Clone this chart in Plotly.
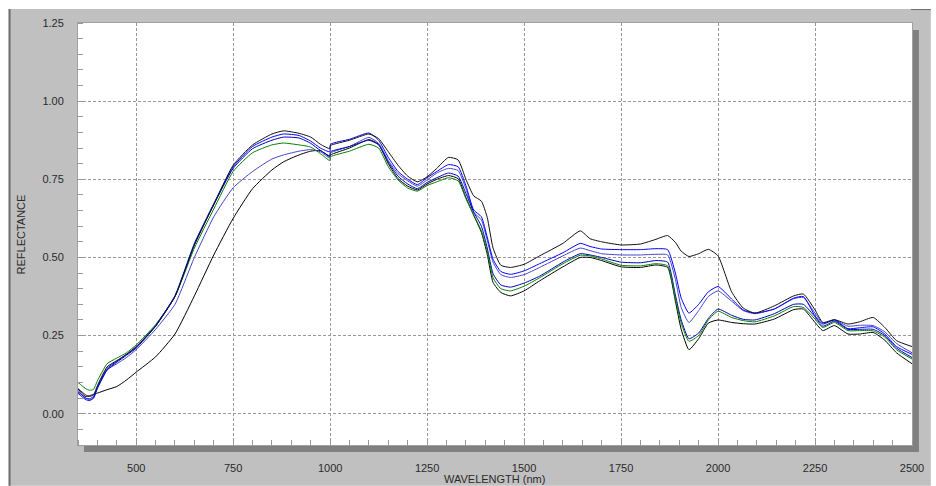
import plotly.graph_objects as go

# ---------------- data ----------------
wavelength = [350, 360, 370, 380, 390, 400, 425, 450, 475, 500, 550, 600, 650, 700, 750,
              800, 850, 880, 920, 950, 975, 999, 1001, 1050, 1100, 1125, 1150, 1175, 1200,
              1225, 1250, 1275, 1305, 1330, 1350, 1370, 1390, 1405, 1420, 1440, 1465, 1500,
              1540, 1600, 1645, 1670, 1700, 1750, 1800, 1840, 1870, 1890, 1905, 1925, 1950,
              1975, 2000, 2035, 2065, 2095, 2145, 2195, 2220, 2250, 2270, 2300, 2335, 2365,
              2400, 2430, 2460, 2500]

black_top = [0.08, 0.07, 0.06, 0.055, 0.06, 0.09, 0.15, 0.17, 0.19, 0.215, 0.28, 0.375, 0.54, 0.67, 0.795,
             0.86, 0.895, 0.905, 0.897, 0.885, 0.862, 0.848, 0.858, 0.875, 0.895, 0.88, 0.838, 0.795, 0.76,
             0.742, 0.758, 0.785, 0.82, 0.812, 0.75, 0.697, 0.68, 0.628, 0.53, 0.475, 0.468, 0.478,
             0.505, 0.545, 0.585, 0.56, 0.55, 0.54, 0.543, 0.558, 0.57, 0.548, 0.52, 0.503, 0.512,
             0.526, 0.505, 0.39, 0.338, 0.322, 0.345, 0.377, 0.383, 0.332, 0.292, 0.301, 0.287, 0.294,
             0.308, 0.276, 0.234, 0.215]

blue = [0.07, 0.06, 0.05, 0.048, 0.055, 0.085, 0.145, 0.168, 0.19, 0.213, 0.282, 0.378, 0.545, 0.672, 0.79,
        0.855, 0.885, 0.895, 0.89, 0.872, 0.85, 0.838, 0.862, 0.878, 0.898, 0.875, 0.82, 0.775, 0.75,
        0.733, 0.755, 0.775, 0.797, 0.79, 0.73, 0.652, 0.63, 0.565, 0.494, 0.455, 0.446, 0.457,
        0.48, 0.515, 0.545, 0.535, 0.527, 0.525, 0.525, 0.528, 0.525, 0.45, 0.37, 0.322, 0.35,
        0.39, 0.407, 0.367, 0.332, 0.322, 0.335, 0.37, 0.375, 0.313, 0.287, 0.3, 0.272, 0.275,
        0.278, 0.255, 0.215, 0.19]

slate_blue = [0.075, 0.06, 0.05, 0.045, 0.05, 0.08, 0.14, 0.16, 0.18, 0.205, 0.27, 0.35, 0.5, 0.63, 0.723,
              0.775, 0.815, 0.828, 0.84, 0.845, 0.838, 0.818, 0.834, 0.855, 0.884, 0.865, 0.81, 0.768, 0.745,
              0.728, 0.748, 0.77, 0.785, 0.778, 0.72, 0.645, 0.62, 0.555, 0.485, 0.445, 0.436, 0.445,
              0.468, 0.505, 0.53, 0.522, 0.512, 0.508, 0.508, 0.51, 0.508, 0.43, 0.34, 0.292, 0.33,
              0.375, 0.393, 0.36, 0.33, 0.32, 0.335, 0.368, 0.372, 0.322, 0.29, 0.3, 0.28, 0.283,
              0.282, 0.262, 0.225, 0.195]

green = [0.1, 0.09, 0.08, 0.075, 0.078, 0.105, 0.16, 0.178, 0.195, 0.22, 0.285, 0.375, 0.53, 0.655, 0.775,
         0.835, 0.86, 0.866, 0.86, 0.853, 0.832, 0.81, 0.822, 0.84, 0.862, 0.85, 0.79, 0.748, 0.722,
         0.712, 0.73, 0.742, 0.755, 0.745, 0.688, 0.636, 0.585, 0.52, 0.435, 0.4, 0.393, 0.408,
         0.435, 0.48, 0.507, 0.505, 0.495, 0.475, 0.473, 0.48, 0.473, 0.37, 0.29, 0.232, 0.25,
         0.3, 0.328, 0.308, 0.298, 0.294, 0.313, 0.343, 0.34, 0.303, 0.276, 0.292, 0.266, 0.266,
         0.265, 0.245, 0.205, 0.175]

dark_blue = [0.065, 0.055, 0.045, 0.042, 0.05, 0.083, 0.14, 0.165, 0.187, 0.21, 0.28, 0.375, 0.54, 0.668, 0.785,
             0.848, 0.875, 0.885, 0.882, 0.865, 0.842, 0.825, 0.838, 0.855, 0.875, 0.86, 0.805, 0.76, 0.735,
             0.72, 0.74, 0.755, 0.77, 0.76, 0.705, 0.645, 0.6, 0.53, 0.448, 0.412, 0.405, 0.418,
             0.44, 0.485, 0.512, 0.508, 0.5, 0.485, 0.483, 0.49, 0.485, 0.38, 0.3, 0.24, 0.258,
             0.305, 0.335, 0.315, 0.302, 0.3, 0.32, 0.35, 0.35, 0.31, 0.28, 0.296, 0.27, 0.27,
             0.27, 0.25, 0.21, 0.18]

black_low = [0.08, 0.065, 0.055, 0.058, 0.062, 0.066, 0.077, 0.087, 0.108, 0.133, 0.182, 0.255, 0.377, 0.508, 0.625,
             0.72, 0.78, 0.806, 0.828, 0.84, 0.842, 0.822, 0.828, 0.85, 0.877, 0.862, 0.8, 0.752, 0.728,
             0.716, 0.735, 0.75, 0.762, 0.752, 0.692, 0.635, 0.58, 0.51, 0.42, 0.388, 0.377, 0.393,
             0.425, 0.47, 0.5, 0.5, 0.49, 0.47, 0.468, 0.476, 0.468, 0.36, 0.27, 0.205, 0.24,
             0.29, 0.3, 0.292, 0.288, 0.287, 0.303, 0.333, 0.335, 0.292, 0.266, 0.282, 0.255, 0.255,
             0.26, 0.235, 0.195, 0.16]

series = [
    ("black_low", black_low, "#000000"),
    ("slate_blue", slate_blue, "#4444cc"),
    ("dark_blue", dark_blue, "#0000b4"),
    ("green", green, "#008000"),
    ("blue", blue, "#0000ff"),
    ("black_top", black_top, "#101010"),
]

x_ticks = [500, 750, 1000, 1250, 1500, 1750, 2000, 2250, 2500]
y_ticks = [0.0, 0.25, 0.5, 0.75, 1.0, 1.25]

# ---------------- layout geometry (pixels) ----------------
W, H = 936, 486
PL, PR, PT, PB = 78, 919, 23, 447


def px(xp):
    return (xp - PL) / (PR - PL)


def py(yp):
    return (PB - yp) / (PB - PT)


fig = go.Figure()
for name, vals, col in series:
    fig.add_trace(go.Scatter(x=wavelength, y=vals, mode="lines", name=name,
                             line=dict(color=col, width=1, shape="spline", smoothing=0.5),
                             hoverinfo="skip"))

shapes = [
    # grey window background
    dict(type="rect", xref="paper", yref="paper", x0=px(8), x1=px(W + 2), y0=py(9), y1=py(H + 2),
         fillcolor="#c0c0c0", line=dict(width=0), layer="below"),
    # dark left frame line
    dict(type="rect", xref="paper", yref="paper", x0=px(8), x1=px(10), y0=py(9), y1=py(H + 2),
         fillcolor="#6e6e6e", line=dict(width=0), layer="below"),
    # dark top-right line
    dict(type="rect", xref="paper", yref="paper", x0=px(918), x1=px(W + 2), y0=py(9), y1=py(10),
         fillcolor="#6e6e6e", line=dict(width=0), layer="below"),
    # plot shadow
    dict(type="rect", xref="paper", yref="paper", x0=px(84), x1=px(926), y0=py(30), y1=py(454),
         fillcolor="#808080", line=dict(width=0), layer="below"),
    # white plot area
    dict(type="rect", xref="paper", yref="paper", x0=0, x1=1, y0=0, y1=1,
         fillcolor="#ffffff", line=dict(width=0), layer="below"),
]

font = dict(family="Liberation Sans, Arial, sans-serif", size=11, color="#2a2a2a")

fig.update_layout(
    width=W, height=H,
    margin=dict(l=PL, r=W - PR, t=PT, b=H - PB, pad=0),
    paper_bgcolor="#ffffff",
    plot_bgcolor="#ffffff",
    showlegend=False,
    font=font,
    shapes=shapes,
    annotations=[
        dict(text="REFLECTANCE", xref="paper", yref="paper", x=px(21), y=py(235),
             textangle=-90, showarrow=False, xanchor="center", yanchor="middle", font=font),
        dict(text="WAVELENGTH (nm)", xref="paper", yref="paper", x=px(498), y=py(481),
             showarrow=False, xanchor="center", yanchor="middle", font=font),
    ],
)

fig.update_xaxes(
    range=[350, 2500], tickmode="array", tickvals=x_ticks,
    ticktext=[str(v) for v in x_ticks],
    ticks="outside", ticklen=13, tickcolor="rgba(0,0,0,0)",
    showgrid=True, gridcolor="#9a9a9a", griddash="3px,2px", gridwidth=1,
    showline=True, linecolor="#a0a0a0", linewidth=1, mirror=True,
    zeroline=False,
    minor=dict(ticks="inside", ticklen=5, tickcolor="#9a9a9a", tick0=0, dtick=50, showgrid=False),
)
fig.update_yaxes(
    range=[-0.1, 1.25], tickmode="array", tickvals=y_ticks,
    ticktext=["%.2f" % v for v in y_ticks],
    ticks="outside", ticklen=11, tickcolor="rgba(0,0,0,0)",
    showgrid=True, gridcolor="#9a9a9a", griddash="3px,2px", gridwidth=1,
    showline=True, linecolor="#a0a0a0", linewidth=1, mirror=True,
    zeroline=False,
    minor=dict(ticks="inside", ticklen=5, tickcolor="#9a9a9a", tick0=0, dtick=0.05, showgrid=False),
)

fig.write_html("out.html")
